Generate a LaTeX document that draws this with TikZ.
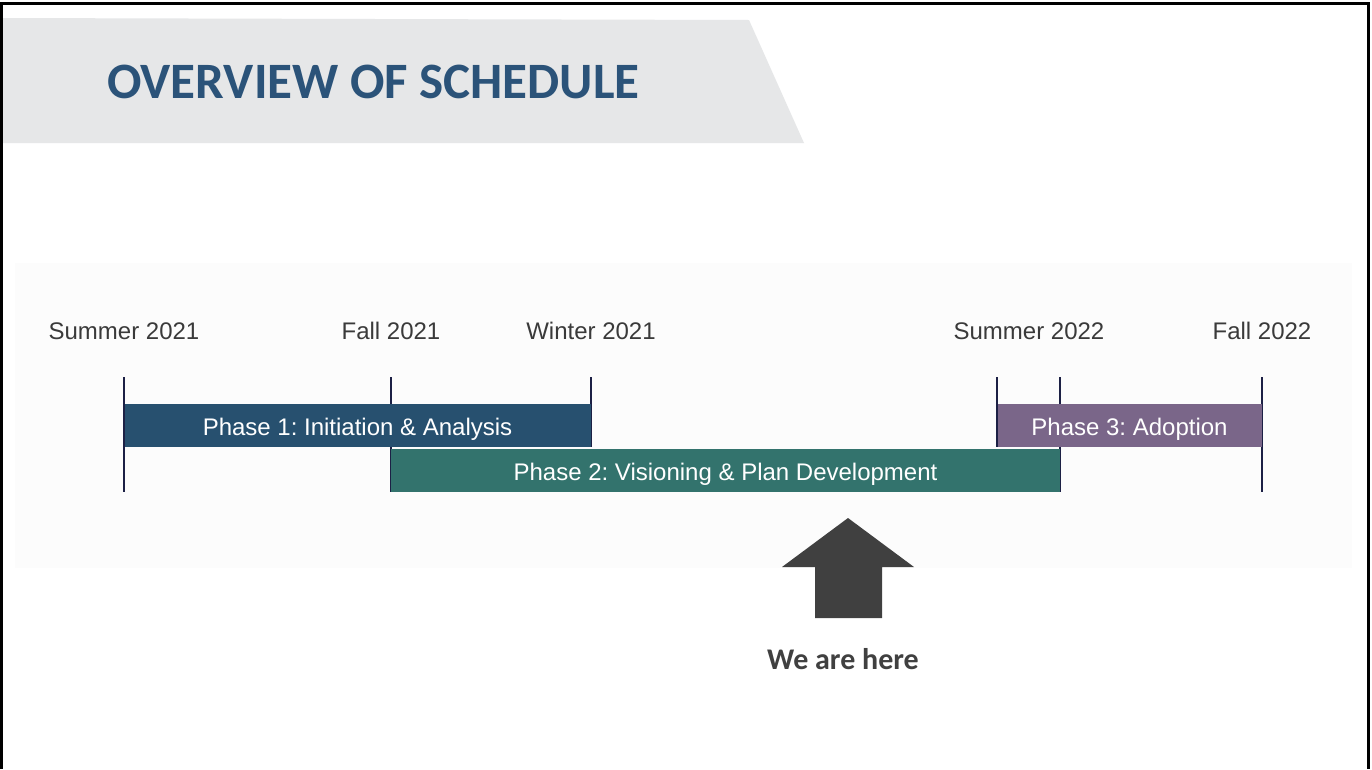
\documentclass[tikz,border=0pt]{standalone}
\usepackage{fontspec}
\setmainfont{Liberation Sans}
\newfontfamily\titlefont{Carlito}
\frenchspacing
\definecolor{banner}{HTML}{E6E7E8}
\definecolor{panel}{HTML}{FCFCFC}
\definecolor{titleblue}{HTML}{2B5379}
\definecolor{phaseone}{HTML}{27506F}
\definecolor{phasetwo}{HTML}{33736D}
\definecolor{phasethree}{HTML}{7A6689}
\definecolor{tickcol}{HTML}{1C2045}
\definecolor{datecol}{HTML}{3A3A3A}
\definecolor{arrowgray}{HTML}{404040}
\begin{document}
\begin{tikzpicture}[x=1pt,y=-1pt,
  datelabel/.style={anchor=base,inner sep=0pt,text=datecol,font=\fontsize{24}{28}\selectfont},
  phasebar/.style={draw=none,minimum height=43pt,inner sep=0pt,text height=19pt,text depth=0pt,text=white,font=\fontsize{24}{28}\selectfont},
  tickline/.style={draw=tickcol,line width=2.2pt}]
\useasboundingbox (0,0) rectangle (1372,769);
\fill[white] (0,0) rectangle (1372,769);
% title banner
\fill[banner] (3,18) -- (749,20) -- (804,143) -- (3,143) -- cycle;
\node[anchor=base west,inner sep=0pt,text=titleblue,font=\titlefont\bfseries\fontsize{51}{60}\selectfont] (title) at (107,98) {OVERVIEW OF SCHEDULE};
% timeline panel
\fill[panel] (15,263) rectangle (1352,568);
% date ticks
\draw[tickline] (124,377) -- (124,492);
\draw[tickline] (391,377) -- (391,492);
\draw[tickline] (591,377) -- (591,447);
\draw[tickline] (997,377) -- (997,447);
\draw[tickline] (1060,377) -- (1060,492);
\draw[tickline] (1262,377) -- (1262,492);
% date labels
\node[datelabel] (d1) at (124,339) {Summer 2021};
\node[datelabel] (d2) at (391,339) {Fall 2021};
\node[datelabel] (d3) at (591,339) {Winter 2021};
\node[datelabel] (d4) at (1029,339) {Summer 2022};
\node[datelabel] (d5) at (1262,339) {Fall 2022};
% phase bars
\node[phasebar,fill=phaseone,minimum width=466pt] (p1) at (357.5,425.5) {Phase 1: Initiation \& Analysis};
\node[phasebar,fill=phasetwo,minimum width=669pt] (p2) at (725.5,470.5) {Phase 2: Visioning \& Plan Development};
\node[phasebar,fill=phasethree,minimum width=264pt] (p3) at (1129.5,425.5) {Phase 3: Adoption};
% current position marker
\fill[arrowgray] (848,518) -- (914,567) -- (882,567) -- (882,618) -- (815,618) -- (815,567) -- (782,567) -- cycle;
\node[anchor=base,inner sep=0pt,text=arrowgray,font=\titlefont\bfseries\fontsize{30}{36}\selectfont] (here) at (843,669) {We are here};
% slide frame
\draw[black,line width=3pt] (1.5,769) -- (1.5,3) -- (1368,3) -- (1368,769);
\end{tikzpicture}
\end{document}
